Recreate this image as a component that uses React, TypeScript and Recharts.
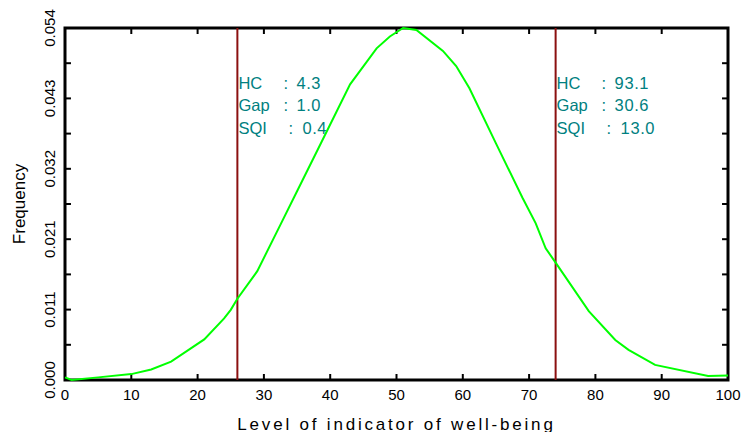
import { LineChart, Line, XAxis, YAxis, ReferenceLine, ReferenceArea } from "recharts";

const LEVEL = [0, 1, 5, 10, 13, 16, 21, 24, 25, 26, 29, 32.5, 35, 38, 43, 47, 49, 51, 53, 57, 59, 61, 65, 69, 71, 72.5, 74, 79, 83, 85, 89, 97, 100];
const FREQ = [
  0.0004, 0.0, 0.0004, 0.0009, 0.0016, 0.0028, 0.0062, 0.0094, 0.0107, 0.0124, 0.0166, 0.0237, 0.0288,
  0.0349, 0.0451, 0.0506, 0.0524, 0.0537, 0.0534, 0.0502, 0.0479, 0.0445, 0.0361, 0.0278, 0.0239, 0.0201,
  0.0179, 0.0105, 0.0061, 0.0046, 0.0023, 0.0006, 0.0007,
];

const X_TICKS = [0, 10, 20, 30, 40, 50, 60, 70, 80, 90, 100];
const Y_MAX = 0.0537;
const Y_TICKS = [0, 0.00537, 0.01074, 0.01611, 0.02148, 0.02685, 0.03222, 0.03759, 0.04296, 0.04833, 0.0537];
const Y_TICK_LABELS = ["0.000", "", "0.011", "", "0.021", "", "0.032", "", "0.043", "", "0.054"];

const CUT_LOW = 26;
const CUT_HIGH = 74;
const LOW_STATS = [["HC", "4.3"], ["Gap", "1.0"], ["SQI", "0.4"]];
const HIGH_STATS = [["HC", "93.1"], ["Gap", "30.6"], ["SQI", "13.0"]];

const data = LEVEL.map((x, i) => ({ x, freq: FREQ[i] }));

const FONT = "'Liberation Sans', Arial, sans-serif";
// inward tick length, in data units (about 6px each way)
const X_TICK_LEN = 0.9;
const Y_TICK_LEN = 0.00092;

const BottomTick = ({ x, y, payload }: any) => (
  <text x={x} y={y + 14} textAnchor="middle" dominantBaseline="central" fontSize={15} fontFamily={FONT} fill="#000">
    {payload.value}
  </text>
);

const LeftTick = ({ x, y, payload, index }: any) => {
  const i = index ?? payload.index;
  const label = Y_TICK_LABELS[i] ?? "";
  if (!label) return <g />;
  return (
    <text
      transform={`translate(${x - 16} ${y}) rotate(-90)`}
      textAnchor="middle"
      dominantBaseline="central"
      fontSize={15}
      fontFamily={FONT}
      fill="#000"
    >
      {label}
    </text>
  );
};

const ROW_Y = [55, 77, 100];
const COLON_DX = [45, 45, 50];
const VALUE_DX = [58, 58, 64];

const statsLabel = (rows: string[][]) => (props: any) => {
  const vb = props.viewBox || {};
  const x0 = (vb.x ?? 0) + 1;
  const y0 = vb.y ?? 0;
  return (
    <g fontSize={16.5} fontFamily={FONT} fill="#008080">
      {rows.map(([name, val], i) => (
        <g key={name}>
          <text x={x0} y={y0 + ROW_Y[i]} dominantBaseline="central">{name}</text>
          <text x={x0 + COLON_DX[i]} y={y0 + ROW_Y[i]} dominantBaseline="central">:</text>
          <text x={x0 + VALUE_DX[i]} y={y0 + ROW_Y[i]} dominantBaseline="central" letterSpacing={0.6}>{val}</text>
        </g>
      ))}
    </g>
  );
};

const xTitle = (props: any) => {
  const vb = props.viewBox || {};
  return (
    <text
      x={vb.x + vb.width / 2}
      y={vb.y + 44}
      textAnchor="middle"
      dominantBaseline="central"
      fontSize={17}
      letterSpacing={2.8}
      fontFamily={FONT}
      fill="#000"
    >
      Level of indicator of well-being
    </text>
  );
};

const yTitle = (props: any) => {
  const vb = props.viewBox || {};
  return (
    <text
      transform={`translate(19 ${vb.y + vb.height / 2}) rotate(-90)`}
      textAnchor="middle"
      dominantBaseline="central"
      fontSize={17}
      fontFamily={FONT}
      fill="#000"
    >
      Frequency
    </text>
  );
};

const tickMark = (key: string, a: { x: number; y: number }, b: { x: number; y: number }) => (
  <ReferenceLine
    key={key}
    xAxisId="b"
    yAxisId="l"
    segment={[a, b]}
    stroke="#000"
    strokeWidth={2}
    ifOverflow="visible"
  />
);

export default function App() {
  return (
    <div style={{ position: "absolute", left: 0, top: 0, background: "#fff" }}>
      <LineChart width={745} height={432} data={data} margin={{ top: 28, right: 17, left: 0, bottom: 0 }}>
        <XAxis
          xAxisId="b"
          dataKey="x"
          type="number"
          domain={[0, 100]}
          ticks={X_TICKS}
          interval={0}
          height={52}
          tickSize={0}
          tickMargin={0}
          tickLine={false}
          axisLine={false}
          tick={<BottomTick />}
          label={xTitle}
        />
        <YAxis
          yAxisId="l"
          type="number"
          domain={[0, Y_MAX]}
          ticks={Y_TICKS}
          interval={0}
          width={65}
          tickSize={0}
          tickMargin={0}
          tickLine={false}
          axisLine={false}
          tick={<LeftTick />}
          label={yTitle}
        />
        {X_TICKS.slice(1, -1).map((t) => tickMark(`xb${t}`, { x: t, y: 0 }, { x: t, y: Y_TICK_LEN }))}
        {X_TICKS.slice(1, -1).map((t) => tickMark(`xt${t}`, { x: t, y: Y_MAX }, { x: t, y: Y_MAX - Y_TICK_LEN }))}
        {Y_TICKS.slice(1, -1).map((t) => tickMark(`yl${t}`, { x: 0, y: t }, { x: X_TICK_LEN, y: t }))}
        {Y_TICKS.slice(1, -1).map((t) => tickMark(`yr${t}`, { x: 100, y: t }, { x: 100 - X_TICK_LEN, y: t }))}
        <ReferenceArea
          xAxisId="b"
          yAxisId="l"
          x1={0}
          x2={100}
          y1={0}
          y2={Y_MAX}
          fill="none"
          fillOpacity={0}
          stroke="#000"
          strokeWidth={3}
          strokeOpacity={1}
          ifOverflow="visible"
        />
        <ReferenceLine xAxisId="b" yAxisId="l" x={CUT_LOW} stroke="#8b1010" strokeWidth={2} label={statsLabel(LOW_STATS)} />
        <ReferenceLine xAxisId="b" yAxisId="l" x={CUT_HIGH} stroke="#8b1010" strokeWidth={2} label={statsLabel(HIGH_STATS)} />
        <Line
          xAxisId="b"
          yAxisId="l"
          type="linear"
          dataKey="freq"
          stroke="#00ff00"
          strokeWidth={2}
          dot={false}
          isAnimationActive={false}
        />
      </LineChart>
    </div>
  );
}
